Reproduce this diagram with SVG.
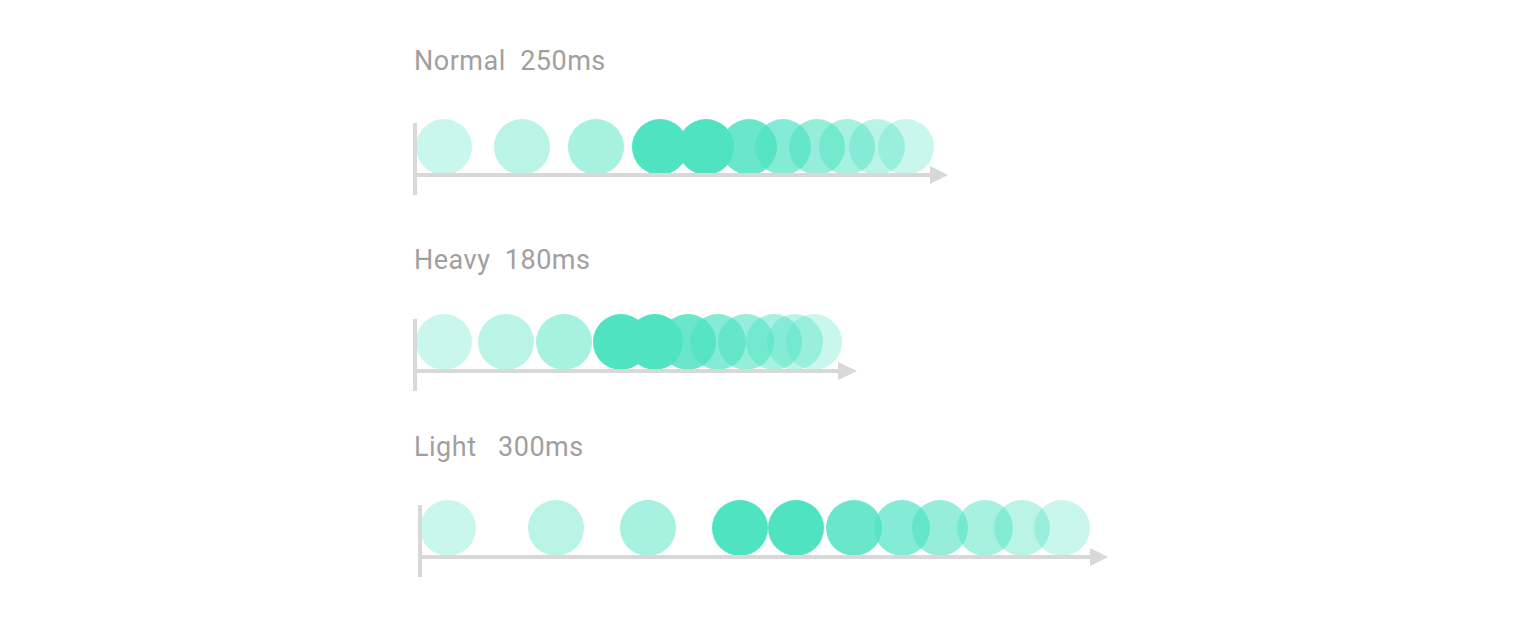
<svg xmlns="http://www.w3.org/2000/svg" width="1520" height="634" viewBox="0 0 1520 634">
<style>
.lbl{font-family:Roboto,"Liberation Sans",sans-serif;font-size:27px;fill:#a0a0a0;white-space:pre;letter-spacing:0.5px}
.ax{stroke:#d8d8d8;stroke-width:4;fill:none}
.ah{fill:#d8d8d8}
circle{fill:#50e3c2}
</style>
<rect width="1520" height="634" fill="#ffffff"/>
<g id="row-normal">
<text class="lbl" x="414" y="69.5" xml:space="preserve">Normal  250ms</text>
<circle cx="444" cy="147" r="28" fill-opacity="0.3"/>
<circle cx="522" cy="147" r="28" fill-opacity="0.4"/>
<circle cx="596" cy="147" r="28" fill-opacity="0.5"/>
<circle cx="660" cy="147" r="28" fill-opacity="1"/>
<circle cx="706" cy="147" r="28" fill-opacity="1"/>
<circle cx="749" cy="147" r="28" fill-opacity="0.85"/>
<circle cx="783" cy="147" r="28" fill-opacity="0.7"/>
<circle cx="817" cy="147" r="28" fill-opacity="0.6"/>
<circle cx="847" cy="147" r="28" fill-opacity="0.5"/>
<circle cx="877" cy="147" r="28" fill-opacity="0.4"/>
<circle cx="906" cy="147" r="28" fill-opacity="0.3"/>
</g>
<g id="row-heavy">
<text class="lbl" x="414" y="269" xml:space="preserve">Heavy  180ms</text>
<circle cx="444" cy="342" r="28" fill-opacity="0.3"/>
<circle cx="506" cy="342" r="28" fill-opacity="0.4"/>
<circle cx="564" cy="342" r="28" fill-opacity="0.5"/>
<circle cx="621" cy="342" r="28" fill-opacity="1"/>
<circle cx="655" cy="342" r="28" fill-opacity="1"/>
<circle cx="688" cy="342" r="28" fill-opacity="0.85"/>
<circle cx="718" cy="342" r="28" fill-opacity="0.7"/>
<circle cx="746" cy="342" r="28" fill-opacity="0.6"/>
<circle cx="774" cy="342" r="28" fill-opacity="0.5"/>
<circle cx="795" cy="342" r="28" fill-opacity="0.4"/>
<circle cx="814" cy="342" r="28" fill-opacity="0.3"/>
</g>
<g id="row-light">
<text class="lbl" x="414" y="456" xml:space="preserve">Light   300ms</text>
<circle cx="448" cy="528" r="28" fill-opacity="0.3"/>
<circle cx="556" cy="528" r="28" fill-opacity="0.4"/>
<circle cx="648" cy="528" r="28" fill-opacity="0.5"/>
<circle cx="740" cy="528" r="28" fill-opacity="1"/>
<circle cx="796" cy="528" r="28" fill-opacity="1"/>
<circle cx="854" cy="528" r="28" fill-opacity="0.85"/>
<circle cx="902" cy="528" r="28" fill-opacity="0.7"/>
<circle cx="940" cy="528" r="28" fill-opacity="0.6"/>
<circle cx="985" cy="528" r="28" fill-opacity="0.5"/>
<circle cx="1022" cy="528" r="28" fill-opacity="0.4"/>
<circle cx="1062" cy="528" r="28" fill-opacity="0.3"/>
</g>
<g id="connectors">
<path class="ax" d="M415 123V195M415 175H932"/>
<polygon class="ah" points="930,166 948,175 930,184"/>
<path class="ax" d="M415 319V391M415 371H840"/>
<polygon class="ah" points="838,362 857,371 838,380"/>
<path class="ax" d="M420 505V577M420 557H1092"/>
<polygon class="ah" points="1090,548 1108,557 1090,566"/>
</g>
</svg>
